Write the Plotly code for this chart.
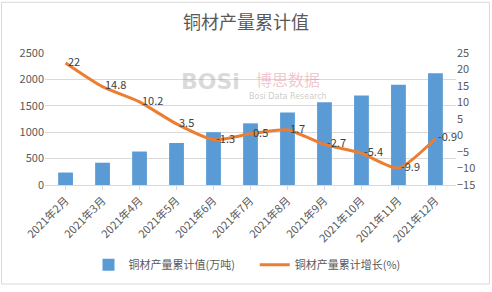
import plotly.graph_objects as go

categories = ["2021年2月", "2021年3月", "2021年4月", "2021年5月", "2021年6月", "2021年7月",
              "2021年8月", "2021年9月", "2021年10月", "2021年11月", "2021年12月"]
output_values = [236, 422, 634, 795, 1000, 1168, 1373, 1565, 1696, 1901, 2118]
growth_values = [22, 14.8, 10.2, 3.5, -1.3, 0.5, 1.7, -2.7, -5.4, -9.9, -0.9]
left_ticks = [0, 500, 1000, 1500, 2000, 2500]
right_ticks = [-15, -10, -5, 0, 5, 10, 15, 20, 25]

FONT = "Noto Sans CJK SC"
W, H = 492, 292
L, R, T, B = 45, 36, 53, 105

fig = go.Figure()
fig.add_trace(go.Bar(
    x=categories, y=output_values, name="铜材产量累计值(万吨)      ",
    marker=dict(color="#5B9BD5", line=dict(width=0)), yaxis="y",
))
fig.add_trace(go.Scatter(
    x=categories, y=growth_values, name="铜材产量累计增长(%)", yaxis="y2",
    mode="lines+text", line=dict(color="#ED7D31", width=3, shape="spline", smoothing=0.6),
    text=[" " + str(v) for v in growth_values], textposition="middle right",
    textfont=dict(family=FONT, size=11, color="#404040"), cliponaxis=False,
))

pw = W - L - R
ph = H - T - B
def px_x(x):
    return (x - L) / pw
def px_y(y):
    return (H - B - y) / ph

fig.update_layout(
    width=W, height=H,
    margin=dict(l=L, r=R, t=T, b=B),
    paper_bgcolor="white", plot_bgcolor="white",
    font=dict(family=FONT, size=11, color="#595959"),
    title=dict(text="铜材产量累计值", x=0.5, xanchor="center", y=1 - 23 / H, yanchor="middle",
               font=dict(family=FONT, size=18, color="#595959")),
    bargap=0.6,
    showlegend=True,
    legend=dict(orientation="h", x=px_x(247), xanchor="center", y=px_y(268), yanchor="middle",
                font=dict(family=FONT, size=11, color="#595959"), itemwidth=30,
                bgcolor="rgba(0,0,0,0)"),
    xaxis=dict(tickangle=-45, showgrid=False, showline=True, linecolor="#D9D9D9",
               ticks="outside", ticklen=4, tickcolor="#D9D9D9",
               tickfont=dict(family=FONT, size=11, color="#595959")),
    yaxis=dict(range=[0, 2500], tickvals=left_ticks, showgrid=True, gridcolor="#D9D9D9",
               zeroline=False, showline=False,
               tickfont=dict(family=FONT, size=11, color="#595959")),
    yaxis2=dict(range=[-15, 25], tickvals=right_ticks, overlaying="y", side="right",
                showgrid=False, zeroline=False, showline=False,
                tickfont=dict(family=FONT, size=11, color="#595959")),
)

# watermark
fig.add_annotation(x=px_x(210), y=px_y(82), xref="paper", yref="paper", text="<b>BOSi</b>",
                   xanchor="center", yanchor="middle",
                   showarrow=False, font=dict(family="DejaVu Sans", size=22, color="rgba(150,150,150,0.35)"))
fig.add_annotation(x=px_x(288), y=px_y(79), xref="paper", yref="paper", text="博思数据",
                   xanchor="center", yanchor="middle",
                   showarrow=False, font=dict(family=FONT, size=16, color="rgba(220,130,150,0.45)"))
fig.add_annotation(x=px_x(288), y=px_y(97), xref="paper", yref="paper", text="Bosi Data Research",
                   xanchor="center", yanchor="middle",
                   showarrow=False, font=dict(family="DejaVu Sans", size=8, color="rgba(150,150,150,0.5)"))

# outer border
fig.add_shape(type="rect", xref="paper", yref="paper",
              x0=px_x(1.5), x1=px_x(W - 2.5), y0=px_y(H - 4.5), y1=px_y(1.5),
              line=dict(color="#D9D9D9", width=1), fillcolor="rgba(0,0,0,0)", layer="below")

fig.write_html("out.html")
